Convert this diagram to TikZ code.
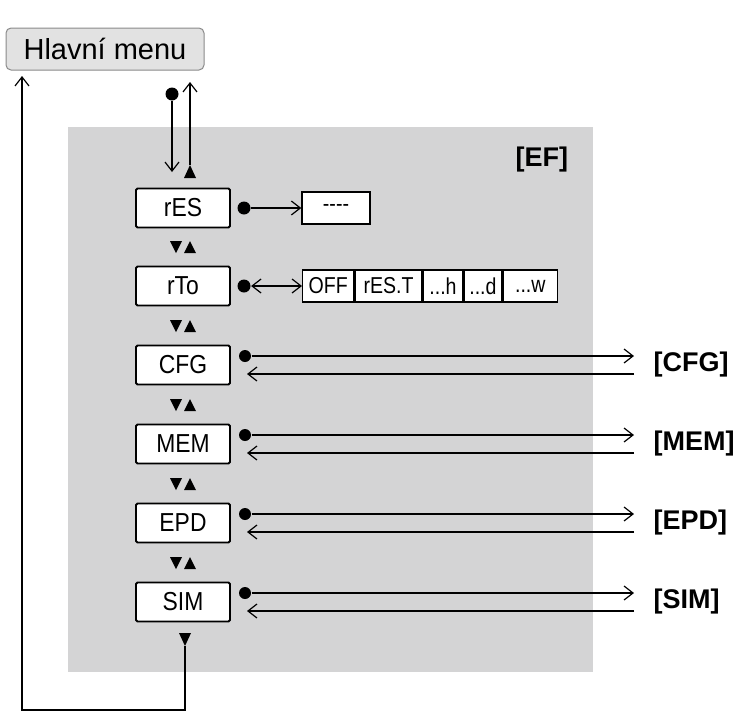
\documentclass[tikz,border=0pt]{standalone}
\usepackage{fontspec}
\setmainfont{Liberation Sans}
\usetikzlibrary{arrows.meta}
\definecolor{panel}{HTML}{D4D4D5}
\definecolor{menufill}{HTML}{E2E2E2}
\definecolor{menuline}{HTML}{8A8A8A}
\begin{document}
\begin{tikzpicture}[x=1pt,y=-1pt,
  line width=1.2pt,
  arr/.style={-{Straight Barb[length=9pt,width=14pt]}},
  arrb/.style={{Straight Barb[length=9pt,width=14pt]}-{Straight Barb[length=9pt,width=14pt]}},
  box/.style={draw,fill=white,line width=1.8pt,rounded corners=1.5pt,minimum width=94pt,minimum height=39pt,font=\fontsize{26}{26}\selectfont\addfontfeature{FakeStretch=0.88},inner sep=0pt},
  dot/.style={circle,fill=black,inner sep=0pt,minimum size=13pt},
  lbl/.style={font=\fontsize{27}{27}\selectfont\bfseries,anchor=west,inner sep=0pt},
  cell/.style={draw,fill=white,line width=1.4pt,minimum height=32pt,inner sep=0pt,font=\fontsize{23}{23}\selectfont\addfontfeature{FakeStretch=0.85}},
]
\useasboundingbox (0,0) rectangle (742,718);
\fill[panel] (68,127) rectangle (593,672);
\node[draw=menuline,fill=menufill,rounded corners=5pt,line width=1pt,minimum width=198pt,minimum height=42pt,font=\fontsize{29}{29}\selectfont,inner sep=0pt] (menu) at (105,49) {Hlavní menu};
\node[lbl] (ef) at (515,160) {[EF]};

\foreach \n/\t/\y in {res/rES/208,rto/rTo/286,cfg/CFG/365,mem/MEM/444,epd/EPD/523,sim/SIM/602}{
  \node[box] (\n) at (183,\y) {\t};
}
\foreach \y in {247,326,405,484,563}{
  \fill (170,\y-6) -- (182,\y-6) -- (176,\y+6) -- cycle;
  \fill (184,\y+6) -- (196,\y+6) -- (190,\y-6) -- cycle;
}
% top entry
\node[dot] (topdot) at (172,94) {};
\coordinate (tin) at (172,172);
\draw[arr] (topdot) -- (tin);
\fill (184,178) -- (196,178) -- (190,165) -- cycle;
\coordinate (tup0) at (190,165);
\coordinate (tup1) at (190,82);
\draw[arr] (tup0) -- (tup1);
% bottom loop
\fill (179,633) -- (191,633) -- (185,646) -- cycle;
\coordinate (b0) at (185,646);
\coordinate (b1) at (185,710);
\coordinate (b2) at (22,710);
\coordinate (b3) at (22,76);
\draw[arr] (b0) -- (b1) -- (b2) -- (b3);

% rES
\node[dot] (d1) at (244,208) {};
\node[cell,minimum width=68pt,minimum height=32pt] (dash) at (336,208) {-{}-{}-{}-};
\draw[arr] (d1) -- (dash);
% rTo
\node[dot] (d2) at (244,286) {};
\node[cell,minimum width=51pt,anchor=west] (c1) at (302,286) {OFF};
\node[cell,minimum width=67pt,anchor=west] (c2) at (c1.east) {rES.T};
\node[cell,minimum width=39pt,anchor=west] (c3) at (c2.east) {...h};
\node[cell,minimum width=38pt,anchor=west] (c4) at (c3.east) {...d};
\node[cell,minimum width=54pt,anchor=west] (c5) at (c4.east) {...w};
\draw[arrb] (d2) -- (c1);

% submenus
\foreach \n/\t/\y in {cfg/CFG/365,mem/MEM/444,epd/EPD/523,sim/SIM/602}{
  \node[dot,minimum size=12pt] (d\n) at (245,\y-9) {};
  \coordinate (o\n) at (634,\y-9);
  \coordinate (i\n) at (634,\y+9);
  \coordinate (e\n) at (247,\y+9);
  \draw[arr] (d\n) -- (o\n);
  \draw[arr] (i\n) -- (e\n);
  \node[lbl] (l\n) at (653,\y) {[\t]};
}
\end{tikzpicture}
\end{document}
